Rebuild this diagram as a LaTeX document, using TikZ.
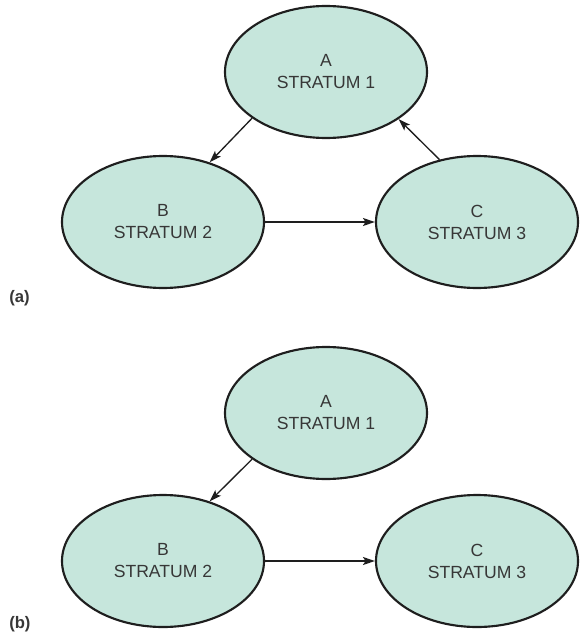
\documentclass[tikz,border=0pt]{standalone}
\usepackage{fontspec}
\setmainfont{Liberation Sans}
\usetikzlibrary{shapes.geometric,arrows.meta}
\definecolor{stratfill}{RGB}{198,230,220}
\definecolor{strattext}{RGB}{55,55,55}
\definecolor{stratline}{RGB}{30,30,30}
\begin{document}
\begin{tikzpicture}[x=0.75pt,y=0.75pt,yscale=-1,xscale=1,
    stratum/.style={ellipse,draw=stratline,line width=1.6pt,fill=stratfill,
        minimum width=151.5pt,minimum height=99pt,inner sep=0pt,
        align=center,text=strattext,font=\fontsize{13.2}{16.5}\selectfont},
    link/.style={draw=stratline,line width=1pt,-{Stealth[length=9pt,width=6pt,inset=2pt]}},
    tag/.style={anchor=west,inner sep=0pt,font=\fontsize{12.5}{15}\selectfont\bfseries,text=strattext}]
    \useasboundingbox (0,0) rectangle (579,635);
    % (a) three strata in a loop
    \node [stratum] (a1) at (326,72) {A\\STRATUM 1};
    \node [stratum] (a2) at (163,222) {B\\STRATUM 2};
    \node [stratum] (a3) at (477,222) {C\\STRATUM 3};
    \draw [link] (a1.212) -- (a2.52);
    \draw [link] (a2) -- (a3);
    \draw [link] (a3.121) -- (a1.327);
    \node [tag] (taga) at (9,298) {(a)};
    % (b) plain chain
    \node [stratum] (b1) at (326,413) {A\\STRATUM 1};
    \node [stratum] (b2) at (163,561) {B\\STRATUM 2};
    \node [stratum] (b3) at (477,561) {C\\STRATUM 3};
    \draw [link] (b1.212) -- (b2.52);
    \draw [link] (b2) -- (b3);
    \node [tag] (tagb) at (9,624) {(b)};
\end{tikzpicture}
\end{document}
